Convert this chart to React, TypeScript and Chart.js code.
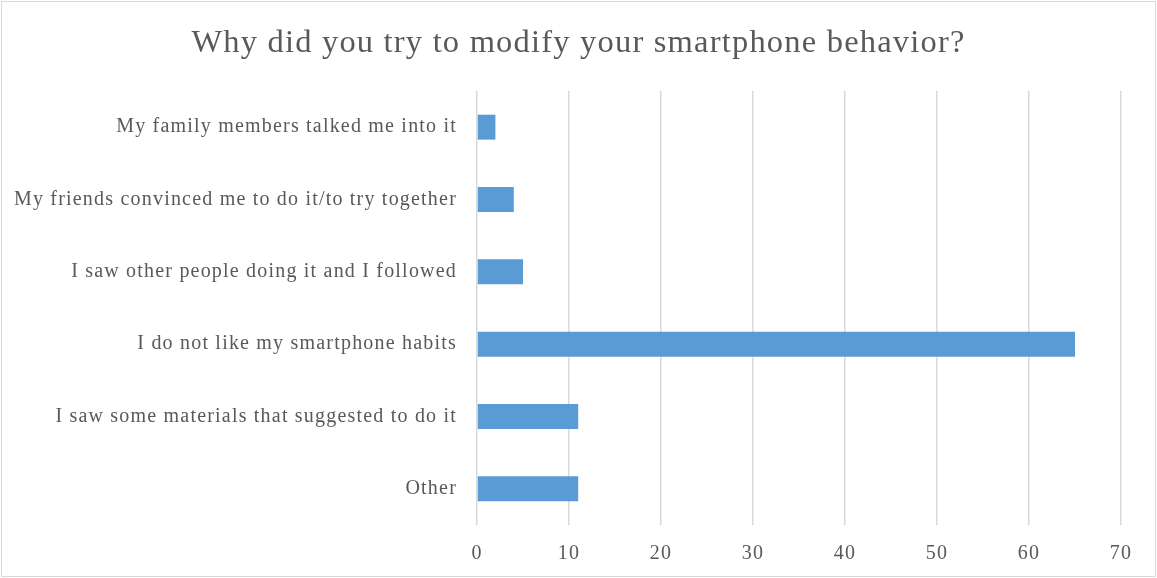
import React, { useEffect, useRef } from "react";
import { Chart, registerables } from "chart.js";

Chart.register(...registerables);

const categories = [
  "My family members talked me into it",
  "My friends convinced me to do it/to try together",
  "I saw other people doing it and I followed",
  "I do not like my smartphone habits",
  "I saw some materials that suggested to do it",
  "Other",
];
const responses = [2, 4, 5, 65, 11, 11];
const titleText = "Why did you try to modify your smartphone behavior?";
const xMin = 0;
const xMax = 70;
const xStep = 10;

const FONT = "'Liberation Serif', 'Times New Roman', serif";
const TEXT = "#595959";

const spacingPlugin = {
  id: "letterSpacing",
  beforeUpdate(chart: any) {
    chart.ctx.letterSpacing = "1.2px";
  },
  beforeDraw(chart: any) {
    chart.ctx.letterSpacing = "1.2px";
  },
};

export default function App() {
  const ref = useRef<HTMLCanvasElement | null>(null);
  useEffect(() => {
    document.body.style.margin = "0";
    const chart = new Chart(ref.current!, {
      type: "bar",
      data: {
        labels: categories,
        datasets: [
          {
            data: responses,
            backgroundColor: "#5b9bd5",
            borderWidth: 0,
            barPercentage: 0.345,
            categoryPercentage: 1,
          },
        ],
      },
      plugins: [spacingPlugin],
      options: {
        indexAxis: "y",
        animation: false,
        responsive: false,
        layout: { padding: 0 },
        plugins: {
          legend: { display: false },
          tooltip: { enabled: false },
          title: {
            display: true,
            text: titleText,
            color: TEXT,
            font: { family: FONT, size: 32.5, weight: "normal" },
            padding: { top: 24, bottom: 28 },
          },
        },
        scales: {
          x: {
            min: xMin,
            max: xMax,
            ticks: {
              stepSize: xStep,
              color: TEXT,
              font: { family: FONT, size: 20 },
              padding: 17,
            },
            grid: { color: "#d9d9d9", lineWidth: 1.5, drawTicks: false },
            border: { display: false },
            afterFit: (s: any) => {
              s.height = 53;
              s.paddingLeft = 0;
              s.paddingRight = 36;
            },
          },
          y: {
            ticks: {
              color: TEXT,
              font: { family: FONT, size: 20 },
              padding: 20,
            },
            grid: { display: false, drawTicks: false },
            border: { display: false },
            afterFit: (s: any) => {
              s.width = 477;
            },
          },
        },
      },
    });
    return () => chart.destroy();
  }, []);
  return (
    <div
      style={{
        position: "relative",
        width: 1157,
        height: 578,
        boxSizing: "border-box",
        background: "#fff",
      }}
    >
      <canvas ref={ref} width={1157} height={578} style={{ display: "block" }} />
      <div
        style={{
          position: "absolute",
          left: 1,
          top: 1,
          width: 1155,
          height: 576,
          boxSizing: "border-box",
          border: "1px solid #d9d9d9",
          pointerEvents: "none",
        }}
      />
    </div>
  );
}
